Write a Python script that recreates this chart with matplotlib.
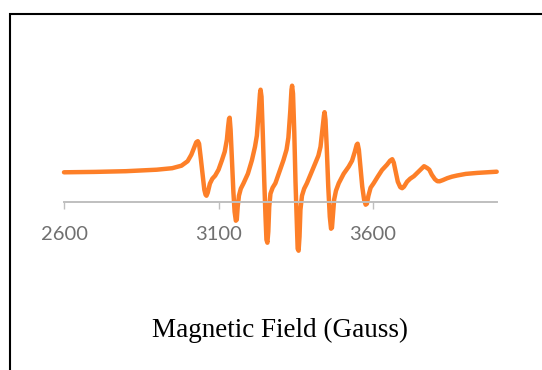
import matplotlib.pyplot as plt
from matplotlib.patches import Rectangle

# EPR spectrum (field in Gauss, intensity in arbitrary units)
field = [2600, 2700, 2800, 2900, 2950, 2980, 3000, 3012, 3022, 3028, 3033, 3037, 3042, 3048, 3054, 3058,
         3061, 3065, 3072, 3080, 3089, 3100, 3111, 3120, 3127, 3131, 3134, 3136, 3139, 3143, 3148,
         3152, 3156, 3159, 3162, 3166, 3172, 3181, 3195, 3208, 3218, 3224, 3230, 3234, 3236, 3239,
         3243, 3248, 3252, 3255, 3258, 3261, 3264, 3268, 3275, 3284, 3297, 3310, 3320, 3326, 3332,
         3336, 3338, 3341, 3345, 3349, 3353, 3356, 3359, 3362, 3365, 3370, 3377, 3386, 3399, 3413,
         3423, 3430, 3436, 3441, 3443, 3446, 3450, 3455, 3460, 3464, 3467, 3470, 3474, 3480, 3489,
         3505, 3521, 3532, 3541, 3547, 3550, 3554, 3559, 3565, 3571, 3576, 3580, 3585, 3592, 3602,
         3615, 3629, 3645, 3655, 3662, 3667, 3673, 3680, 3688, 3694, 3700, 3710, 3720, 3732, 3750,
         3765, 3775, 3782, 3790, 3800, 3808, 3815, 3825, 3840, 3855, 3872, 3900, 3937, 4000]
intensity = [29.4, 29.8, 30.5, 32, 33.5, 36, 40.5, 47, 55, 59.5, 60.5, 58, 45, 28, 12, 7,
             6, 9, 18, 23, 26, 32, 41.5, 50, 62, 75, 83, 84, 72, 45, 10,
             -10, -19, -18, -5, 6, 13, 18.5, 28, 41.5, 55, 66, 90, 108, 112, 105,
             70, 20, -15, -38, -41, -30, -5, 8, 14, 18.5, 30, 41.5, 52, 64, 90,
             112, 116, 108, 70, 20, -20, -47, -49, -35, -8, 6, 13, 18.5, 28, 38.5,
             46, 55, 72, 86, 89.5, 82, 55, 15, -15, -27, -26, -14, 2, 11, 18.5,
             28, 35, 41, 50, 57, 58, 52, 35, 15, 2, -3, -2, 6, 14, 18.5,
             25, 31.7, 37, 41, 42.5, 39, 30, 20, 14.5, 13.5, 15, 20, 23, 25.5, 31,
             35.5, 33.7, 32, 27, 22.5, 20.5, 20.4, 21.5, 23.5, 25, 26.2, 27.8, 28.8, 30]
tick_values = [2600, 3100, 3600]
tick_labels = ['2600', '3100', '3600']

fig = plt.figure(figsize=(5.42, 3.70), dpi=100)
ax = fig.add_axes([64 / 542, 80 / 370, 432.7 / 542, 260 / 370])

ax.plot(field, intensity, color='#fd7f28', linewidth=3.2,
        solid_capstyle='round', solid_joinstyle='round', clip_on=False)

ax.set_xlim(2600, 4000)
ax.set_ylim(-88.3, 171.7)

for side in ['top', 'left', 'right']:
    ax.spines[side].set_visible(False)
ax.spines['bottom'].set_position(('data', 0))
ax.spines['bottom'].set_color('#bfbfbf')
ax.spines['bottom'].set_linewidth(1.4)
ax.set_yticks([])
ax.set_xticks(tick_values, tick_labels)
ax.tick_params(axis='x', direction='out', length=4.8, width=1.0, color='#bfbfbf',
               labelcolor='#707070', labelsize=14.5, pad=12.5)
for lab in ax.get_xticklabels():
    lab.set_family('Lato')

fig.text(279.7 / 542, 40 / 370, 'Magnetic Field (Gauss)', family='Liberation Serif',
         fontsize=19.5, ha='center', va='center', color='black')

# chart border (only the top and left edges fall inside the picture)
fig.add_artist(Rectangle((10 / 542, -0.1), 1.2, (370 - 14) / 370 + 0.1,
                         transform=fig.transFigure, fill=False,
                         edgecolor='black', linewidth=1.5))

fig.savefig('out.png', dpi=100)
